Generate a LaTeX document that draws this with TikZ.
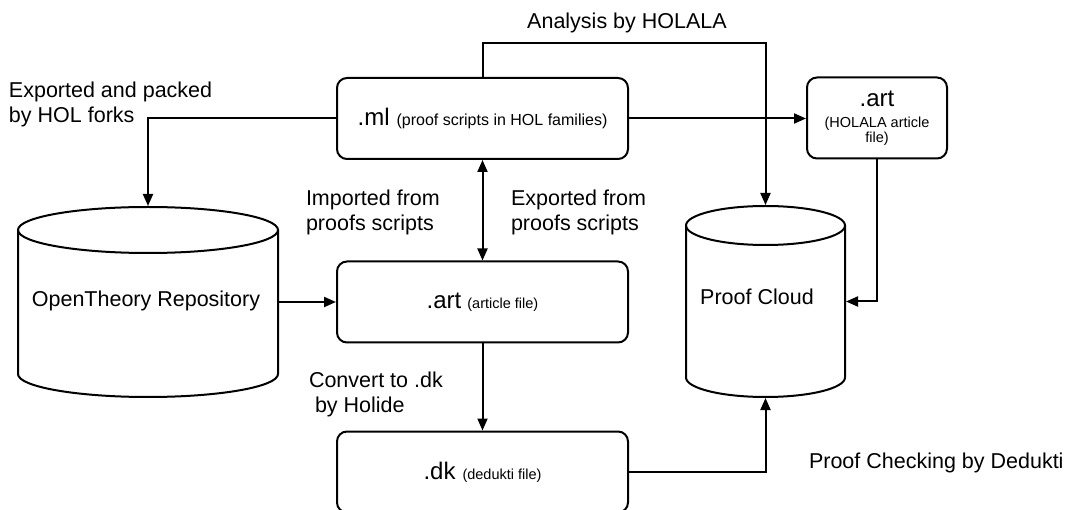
\documentclass[tikz,border=0pt]{standalone}
\usepackage{fontspec}
\setmainfont{Liberation Sans}
\usetikzlibrary{arrows.meta}
\newcommand\mybigfont{\fontsize{24}{28}\selectfont}
\begin{document}
\begin{tikzpicture}[x=1pt,y=-1pt,line width=2pt,
  tip/.style={-{Triangle[length=12pt,width=10pt]}},
  twotip/.style={{Triangle[length=12pt,width=10pt]}-{Triangle[length=12pt,width=10pt]}},
  box/.style={draw,rounded corners=10pt,minimum width=291pt,minimum height=81pt,inner sep=0pt,
    font=\fontsize{14.5}{17}\selectfont},
  cyl/.style={inner sep=0pt},
  lbl/.style={font=\fontsize{21.5}{25}\selectfont,align=left,inner sep=0pt}]
\useasboundingbox (0,0) rectangle (1065,510);
\clip (0,0) rectangle (1065,510);

% cylinders
\draw[fill=white] (18,230) -- (18,374) arc[start angle=180,end angle=360,x radius=130pt,y radius=23pt] -- (278,230);
\draw (148,230) ellipse [x radius=130pt,y radius=23pt];
\node[cyl,minimum width=260pt,minimum height=190pt] (otr) at (148,302) {};
\node[lbl,anchor=base] (otrtext) at (146,307) {OpenTheory Repository};

\draw[fill=white] (686,225.5) -- (686,377.5) arc[start angle=180,end angle=360,x radius=79.5pt,y radius=19.5pt] -- (845,225.5);
\draw (765.5,225.5) ellipse [x radius=79.5pt,y radius=19.5pt];
\node[cyl,minimum width=159pt,minimum height=191pt] (pc) at (765.5,301.5) {};
\node[lbl,anchor=base] (pctext) at (757,305) {Proof Cloud};

% boxes
\node[box] (ml) at (482.5,118.5) {{\mybigfont .ml}\hspace{7pt}{\fontsize{16}{18}\selectfont(proof scripts in HOL families)}};
\node[box] (art) at (482.5,302) {{\mybigfont .art}\hspace{6pt}(article file)};
\node[box] (dk) at (482.5,472) {{\mybigfont .dk}\hspace{7pt}(dedukti file)};
\node[box,minimum width=140pt,align=center,font=\fontsize{14.5}{14.5}\selectfont] (artr) at (877,118)
  {{\mybigfont .art}\\[7pt](HOLALA article\\file)};

% connectors
\draw[tip] (ml.north) -- ++(0,-33.5) -| (pc.north);
\draw[tip] (ml.east) -- (ml.east -| artr.west);
\draw[tip] (artr.south) |- (pc.east);
\draw[tip] (ml.west) -| (otr.north);
\draw[twotip] (ml.south) -- (art.north);
\draw[tip] (otr.east) -- (otr.east -| art.west);
\draw[tip] (art.south) -- (dk.north);
\draw[tip] (dk.east) -| (pc.south);

% labels
\node[lbl,anchor=base] (l1) at (627,29) {Analysis by HOLALA};
\node[lbl,anchor=north west] (l2) at (8,80.6) {Exported and packed\\by HOL forks};
\node[lbl,anchor=north west] (l3) at (305,188.6) {Imported from\\proofs scripts};
\node[lbl,anchor=north west] (l4) at (510,188.6) {Exported from\\proofs scripts};
\node[lbl,anchor=north west] (l5) at (308,371) {Convert to .dk\\\hspace*{6pt}by Holide};
\node[lbl,anchor=base west] (l6) at (808,468) {Proof Checking by Dedukti};
\end{tikzpicture}
\end{document}
